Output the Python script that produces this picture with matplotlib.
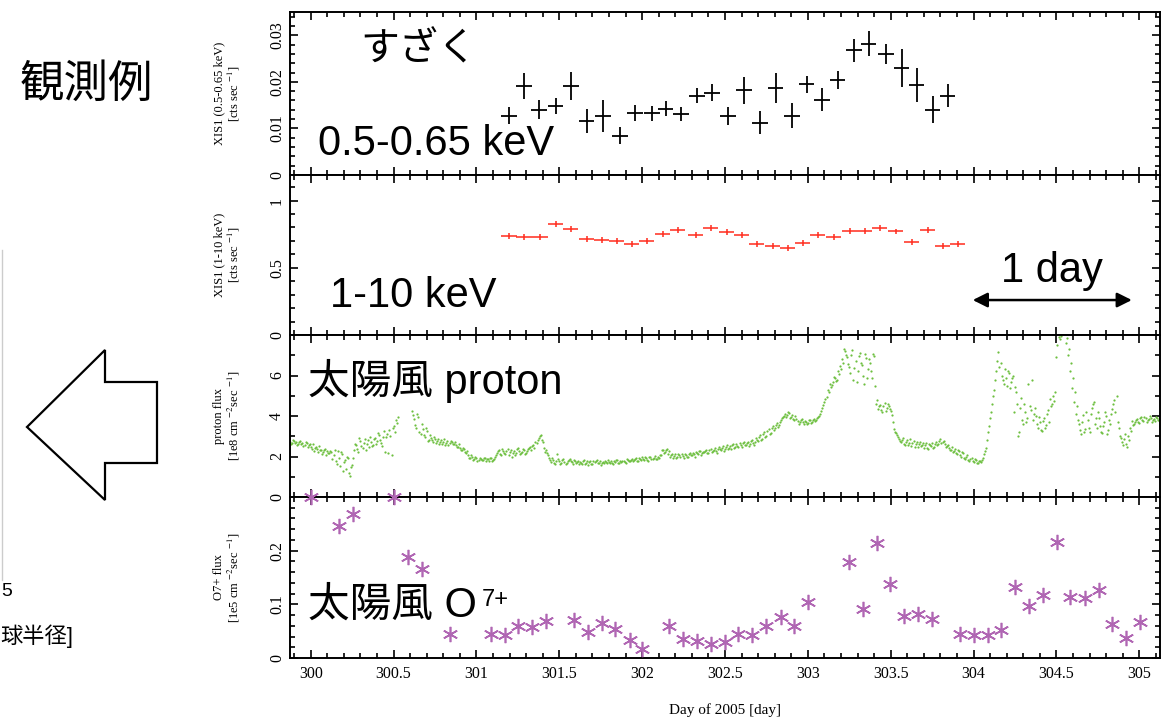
import numpy as np
import matplotlib
matplotlib.use("Agg")
import matplotlib.pyplot as plt
from matplotlib.patches import Polygon
from matplotlib.ticker import MultipleLocator

plt.rcParams['font.family'] = ['Liberation Serif', 'DejaVu Serif']
plt.rcParams['mathtext.fontset'] = 'stix'

# ---- Suzaku XIS1 0.5-0.65 keV (black) ----
soft_day = [301.196, 301.287, 301.377, 301.478, 301.569, 301.665, 301.763, 301.865,
            301.956, 302.058, 302.142, 302.233, 302.330, 302.420, 302.517, 302.613,
            302.710, 302.806, 302.903, 302.993, 303.084, 303.180, 303.277, 303.367,
            303.470, 303.566, 303.656, 303.753, 303.843]
soft_rate = [0.0127, 0.0191, 0.0140, 0.0148, 0.0191, 0.0116, 0.0127, 0.0084,
             0.0133, 0.0133, 0.0142, 0.0131, 0.0170, 0.0177, 0.0127, 0.0182,
             0.0112, 0.0187, 0.0127, 0.0195, 0.0162, 0.0204, 0.0268, 0.0282,
             0.0260, 0.0230, 0.0193, 0.0140, 0.0170]
soft_err = [0.0018, 0.0027, 0.0020, 0.0018, 0.0030, 0.0025, 0.0034, 0.0018,
            0.0018, 0.0016, 0.0016, 0.0016, 0.0016, 0.0018, 0.0019, 0.0029,
            0.0025, 0.0032, 0.0027, 0.0018, 0.0025, 0.0020, 0.0025, 0.0027,
            0.0021, 0.0040, 0.0036, 0.0029, 0.0025]
soft_bin = 0.047

# ---- Suzaku XIS1 1-10 keV (red) ----
hard_day = [301.196, 301.287, 301.383, 301.478, 301.569, 301.665, 301.757, 301.847,
            301.938, 302.028, 302.125, 302.215, 302.323, 302.414, 302.511, 302.601,
            302.692, 302.788, 302.879, 302.969, 303.060, 303.156, 303.253, 303.343,
            303.434, 303.530, 303.627, 303.723, 303.813, 303.904]
hard_rate = [0.736, 0.728, 0.728, 0.827, 0.785, 0.716, 0.709, 0.696,
             0.679, 0.699, 0.748, 0.783, 0.741, 0.795, 0.765, 0.741,
             0.674, 0.662, 0.647, 0.684, 0.741, 0.728, 0.773, 0.773,
             0.795, 0.770, 0.691, 0.778, 0.662, 0.674]
hard_err = 0.022
hard_bin = 0.046

# ---- solar wind proton flux (green), two interleaved samplings every 0.0125 day ----
proton_t0 = 299.875
proton_dt = 0.0125
nan = np.nan
proton_flux = [
    2.72, 2.65, 2.78, 2.70, 2.62, 2.75, 2.68, 2.58, 2.66, 2.55, 2.48, 2.60, 2.42, 2.35, 2.50, 2.30, 2.22, 2.38, 2.25, 2.15,
    2.20, 2.05, 1.80, 2.25, 1.55, 2.10, 1.75, 1.40, 1.95, 1.05, 1.60, 2.30, 2.55, 2.20, 2.75, 2.40, 2.85, 2.60, 2.45, 2.70,
    2.55, 2.90, 2.75, 3.05, 2.65, 2.95, 2.20, 3.10, 3.30, 2.05, 3.50, 3.80, 3.95, nan, nan, nan, nan, nan, nan, 4.25,
    3.85, 3.40, 3.95, 3.10, 3.35, 2.95, 3.25, 2.80, 2.90, 2.70, 2.85, 2.75, 2.62, 2.80, 2.70, 2.58, 2.78, 2.66, 2.72, 2.60,
    2.55, 2.48, 2.40, 2.30, 2.35, 2.15, 2.05, 1.95, 2.00, 1.88, 1.92, 1.85, 1.90, 1.82, 1.95, 1.87, 1.80, 1.92, 1.85, 1.98,
    2.15, 2.30, 2.05, 2.25, 2.12, 2.35, 2.20, 2.00, 2.28, 2.15, 2.40, 2.10, 2.22, 2.30, 2.18, 2.35, 2.45, 2.50, 2.40, 2.65,
    2.90, 3.05, 2.70, 2.20, 2.15, 1.95, 1.75, 1.85, 1.65, 2.10, 1.80, 1.70, 1.88, 1.62, 1.78, 1.90, 1.72, 1.85, 1.68, 1.80,
    1.75, 1.62, 1.82, 1.70, 1.58, 1.78, 1.65, 1.72, 1.85, 1.68, 1.60, 1.75, 1.80, 1.66, 1.72, 1.78, 1.64, 1.74, 1.82, 1.70,
    1.72, 1.80, 1.68, 1.85, 1.76, 1.90, 1.82, 1.95, 1.78, 1.88, 2.00, 1.85, 1.92, 1.80, 1.96, 1.88, 2.02, 1.90, 1.95, 2.05,
    2.30, 2.20, 2.38, 2.25, 2.05, 1.95, 2.10, 1.98, 2.05, 2.12, 1.95, 2.08, 2.00, 2.15, 2.05, 2.10, 2.20, 2.12, 2.25, 2.18,
    2.22, 2.30, 2.15, 2.35, 2.25, 2.40, 2.18, 2.45, 2.30, 2.50, 2.38, 2.55, 2.42, 2.35, 2.60, 2.48, 2.52, 2.65, 2.45, 2.70,
    2.55, 2.70, 2.62, 2.80, 2.58, 2.90, 2.75, 3.05, 2.85, 3.20, 3.00, 3.35, 3.15, 3.50, 3.40, 3.65, 3.55, 3.80, 3.95, 4.10,
    4.05, 4.15, 3.95, 3.85, 4.00, 3.75, 3.70, 3.85, 3.60, 3.72, 3.65, 3.78, 3.70, 3.85, 3.80, 3.95, 4.10, 4.40, 4.70, 4.95,
    5.20, 5.45, 5.70, 5.90, 5.80, 6.05, 6.30, 6.60, 7.20, 6.90, 6.40, 7.00, 5.80, 6.70, 6.20, 7.10, 6.50, 5.60, 6.85, 6.30,
    6.60, 5.90, 6.95, 4.60, 4.35, 4.55, 4.20, 4.65, 4.40, 4.50, 4.25, 3.70, 3.20, 3.05, 2.85, 2.70, 2.90, 2.55, 2.80, 2.65,
    2.50, 2.75, 2.60, 2.45, 2.70, 2.55, 2.40, 2.65, 2.35, 2.58, 2.68, 2.45, 2.72, 2.60, 2.85, 2.70, 2.62, 2.50, 2.40, 2.30,
    2.20, 2.35, 2.10, 2.25, 2.00, 2.15, 1.90, 2.05, 1.80, 1.95, 1.72, 1.85, 1.70, 1.80, 1.85, 2.10, 2.40, 3.20, 3.90, 4.60,
    5.30, 6.20, 7.15, 6.60, 5.80, 6.30, 5.50, 6.10, 5.70, 6.00, 5.45, 4.60, 3.20, 4.90, 3.60, 4.20, 3.90, 4.50, 5.80, 4.10,
    4.00, 3.40, 3.70, 3.25, 3.90, 3.55, 4.30, 4.85, 4.60, 4.75, 6.90, 7.90, 7.95, 8.50, 8.60, 7.85, 7.30, 6.60, 5.90, 5.20,
    4.50, 3.60, 3.10, 4.05, 3.35, 3.80, 3.20, 4.40, 4.70, 3.90, 4.20, 3.50, 3.15, 3.70, 4.00, 3.30, 3.60, 4.35, 4.80, 5.00,
    3.40, 2.90, 2.55, 3.10, 2.45, 2.80, 3.25, 3.55, 3.70, 3.85, 3.65, 3.95, 3.75, 3.90, 3.80, 4.00, 3.70, 3.85, 3.95, 3.78,
]
# second sampling, offset by half a step
proton_flux_b = [
    2.60, 2.80, 2.66, 2.58, 2.74, 2.64, 2.52, 2.70, 2.45, 2.62, 2.38, 2.28, 2.45, 2.20, 2.32, 2.12, 2.30, 2.08, 2.18, 2.28,
    1.90, 2.30, 1.65, 1.95, 2.20, 1.30, 1.85, 2.00, 1.20, 1.50, 1.95, 2.60, 2.35, 2.90, 2.50, 2.65, 2.30, 2.80, 2.95, 2.50,
    2.85, 2.60, 3.15, 2.80, 2.50, 3.25, 2.95, 2.15, 3.00, 3.40, 3.20, 3.65, nan, nan, nan, nan, nan, nan, nan, 4.05,
    3.55, 4.10, 3.20, 3.60, 3.05, 3.40, 2.75, 3.05, 2.80, 2.95, 2.65, 2.85, 2.72, 2.60, 2.85, 2.68, 2.55, 2.76, 2.60, 2.70,
    2.45, 2.60, 2.30, 2.42, 2.20, 2.25, 1.95, 2.05, 1.85, 1.98, 1.80, 1.95, 1.83, 1.92, 1.78, 1.88, 1.95, 1.80, 1.90, 2.08,
    2.25, 2.10, 2.35, 2.18, 2.28, 2.05, 2.30, 2.15, 2.05, 2.35, 2.25, 2.18, 2.35, 2.12, 2.28, 2.40, 2.30, 2.55, 2.70, 2.80,
    3.00, 2.80, 2.40, 2.30, 2.05, 1.85, 1.95, 1.70, 1.80, 1.90, 1.65, 1.82, 1.75, 1.70, 1.85, 1.76, 1.62, 1.80, 1.74, 1.65,
    1.68, 1.76, 1.64, 1.80, 1.72, 1.62, 1.76, 1.80, 1.70, 1.78, 1.66, 1.70, 1.74, 1.82, 1.68, 1.70, 1.78, 1.84, 1.66, 1.78,
    1.80, 1.74, 1.90, 1.78, 1.84, 1.80, 1.88, 1.76, 1.92, 1.84, 1.90, 1.96, 1.82, 1.98, 1.86, 1.92, 1.86, 2.00, 2.08, 2.30,
    2.15, 2.32, 2.10, 1.98, 2.10, 2.02, 1.92, 2.12, 1.98, 2.02, 2.10, 1.96, 2.12, 2.05, 2.18, 2.00, 2.15, 2.28, 2.08, 2.24,
    2.28, 2.18, 2.32, 2.20, 2.30, 2.28, 2.38, 2.35, 2.42, 2.28, 2.48, 2.36, 2.52, 2.55, 2.40, 2.62, 2.45, 2.55, 2.68, 2.58,
    2.65, 2.50, 2.75, 2.68, 2.70, 2.82, 2.95, 2.80, 3.10, 2.95, 3.25, 3.10, 3.40, 3.30, 3.58, 3.45, 3.70, 3.88, 4.02, 3.95,
    4.20, 3.90, 4.05, 3.78, 3.85, 3.62, 3.80, 3.68, 3.75, 3.60, 3.82, 3.66, 3.78, 3.75, 3.90, 4.00, 4.25, 4.55, 4.85, 5.30,
    5.60, 5.55, 5.95, 5.75, 6.20, 6.45, 6.80, 7.30, 7.00, 6.55, 6.10, 7.25, 6.35, 5.70, 6.95, 6.60, 6.00, 7.05, 5.90, 6.80,
    6.20, 7.05, 5.50, 4.80, 4.50, 4.30, 4.50, 4.25, 4.60, 4.35, 4.05, 3.35, 3.15, 2.95, 2.75, 2.82, 2.60, 2.72, 2.55, 2.88,
    2.65, 2.45, 2.72, 2.62, 2.50, 2.68, 2.55, 2.42, 2.62, 2.50, 2.40, 2.60, 2.55, 2.78, 2.65, 2.75, 2.45, 2.58, 2.32, 2.45,
    2.28, 2.15, 2.30, 2.05, 2.20, 1.95, 2.00, 1.85, 1.90, 1.78, 1.90, 1.66, 1.76, 1.74, 1.95, 2.25, 2.80, 3.50, 4.20, 5.00,
    5.80, 6.70, 6.40, 6.00, 5.60, 5.90, 6.20, 5.40, 5.90, 4.20, 5.20, 3.00, 4.40, 3.80, 4.60, 3.70, 5.60, 4.30, 3.80, 4.40,
    3.60, 3.95, 3.30, 3.75, 3.40, 4.10, 3.70, 4.50, 5.00, 5.20, 7.50, 7.80, 8.40, 8.30, 7.60, 7.00, 6.20, 5.40, 4.70, 4.10,
    3.80, 3.30, 3.70, 3.20, 4.20, 3.40, 4.10, 4.60, 3.60, 3.40, 3.90, 3.20, 3.50, 4.20, 3.10, 3.80, 4.10, 4.60, 4.20, 3.70,
    3.00, 2.70, 2.85, 2.60, 3.00, 3.40, 3.75, 3.60, 3.80, 3.70, 3.90, 3.80, 3.95, 3.70, 3.85, 3.90, 3.82, 3.75, 3.88, 3.82,
]
proton_day = proton_t0 + proton_dt * np.arange(len(proton_flux))
proton_day_b = proton_t0 + proton_dt / 2 + proton_dt * np.arange(len(proton_flux_b))

# ---- solar wind O7+ flux (purple) ----
oxy_day = [300.000, 300.171, 300.257, 300.502, 300.585, 300.673, 300.840, 301.087,
           301.172, 301.252, 301.333, 301.419, 301.590, 301.671, 301.759, 301.835,
           301.926, 302.000, 302.161, 302.244, 302.334, 302.414, 302.499, 302.579,
           302.663, 302.746, 302.835, 302.917, 303.001, 303.247, 303.333, 303.417,
           303.498, 303.580, 303.665, 303.752, 303.916, 304.001, 304.087, 304.168,
           304.252, 304.332, 304.419, 304.503, 304.584, 304.670, 304.754, 304.835,
           304.917, 305.002]
oxy_flux = [0.300, 0.246, 0.269, 0.300, 0.189, 0.166, 0.045, 0.045,
            0.042, 0.060, 0.057, 0.069, 0.071, 0.049, 0.066, 0.054,
            0.034, 0.016, 0.060, 0.036, 0.032, 0.027, 0.029, 0.045,
            0.042, 0.060, 0.077, 0.059, 0.104, 0.179, 0.091, 0.214,
            0.138, 0.079, 0.082, 0.073, 0.045, 0.042, 0.042, 0.052,
            0.132, 0.097, 0.118, 0.216, 0.113, 0.112, 0.126, 0.064,
            0.037, 0.067]

W, H = 1170, 717
fig = plt.figure(figsize=(W / 100, H / 100), dpi=100)


def fx(x):
    return x / W


def fy(y):
    return 1 - y / H


# panel edges in pixels (top, bottom)
edges = [(12, 175), (175, 335), (335, 497), (497, 658)]
left, right = 290, 1160
axes = []
for t, b in edges:
    ax = fig.add_axes([fx(left), fy(b), fx(right - left), (b - t) / H],
                      sharex=axes[0] if axes else None)
    axes.append(ax)

ax1, ax2, ax3, ax4 = axes

ax1.errorbar(soft_day, soft_rate, xerr=soft_bin, yerr=soft_err, fmt='none',
             ecolor='black', elinewidth=1.3, capsize=0)
ax2.errorbar(hard_day, hard_rate, xerr=hard_bin, yerr=hard_err, fmt='none',
             ecolor='#ff2b1c', elinewidth=1.1, capsize=0)
ax3.plot(proton_day, proton_flux, '.', color='#6dbf3f', ms=3.2, mew=0)
ax3.plot(proton_day_b, proton_flux_b, '.', color='#6dbf3f', ms=3.2, mew=0)
ax4.plot(oxy_day, oxy_flux, ls='none', marker=(6, 2, 0), color='#b066b3',
         ms=11, mew=1.2, clip_on=False, zorder=5)

ylims = [(0, 0.035), (0, 1.19), (0, 8.0), (0, 0.3)]
majors = [0.01, 0.5, 2, 0.1]
minors = [0.002, 0.1, 1, 0.02]
ylabels = ['XIS1 (0.5-0.65 keV)\n[cts sec $^{-1}$]',
           'XIS1 (1-10 keV)\n[cts sec $^{-1}$]',
           'proton flux\n[1e8 cm $^{-2}$sec $^{-1}$]',
           'O7+ flux\n[1e5 cm $^{-2}$sec $^{-1}$]']
ytick_text = [['0', '0.01', '0.02', '0.03'], ['0', '0.5', '1'],
              ['0', '2', '4', '6'], ['0', '0.1', '0.2']]

for ax, yl, mj, mn, lab, tt in zip(axes, ylims, majors, minors, ylabels, ytick_text):
    ax.set_xlim(299.875, 305.125)
    ax.xaxis.set_major_locator(MultipleLocator(0.5))
    ax.xaxis.set_minor_locator(MultipleLocator(0.1))
    ax.set_yticks([mj * k for k in range(len(tt))])
    ax.set_yticklabels(tt, rotation=90, va='center')
    ax.yaxis.set_minor_locator(MultipleLocator(mn))
    ax.set_ylim(*yl)
    ax.tick_params(which='both', direction='in', top=True, right=True, width=1.2,
                   labelsize=11.5)
    ax.tick_params(which='major', length=6)
    ax.tick_params(which='minor', length=3.5)
    for s in ax.spines.values():
        s.set_linewidth(1.4)
    ax.set_ylabel(lab, fontsize=9, linespacing=1.1)
    ax.yaxis.set_label_coords(-0.055, 0.5)
    if ax is not ax4:
        ax.tick_params(labelbottom=False)

ax4.set_xticks([300, 300.5, 301, 301.5, 302, 302.5, 303, 303.5, 304, 304.5, 305])
ax4.set_xticklabels(['300', '300.5', '301', '301.5', '302', '302.5', '303',
                     '303.5', '304', '304.5', '305'])
ax4.tick_params(axis='x', pad=6)
ax4.set_xlabel('Day of 2005 [day]', fontsize=11, labelpad=15)

# ---- overlay labels ----
sans = ['Liberation Sans', 'Noto Sans CJK JP', 'DejaVu Sans']
big = 30
fig.text(fx(360), fy(50), 'すざく', family=sans, fontsize=28, va='center')
fig.text(fx(318), fy(155), '0.5-0.65 keV', family=sans, fontsize=big, va='baseline')
fig.text(fx(330), fy(307), '1-10 keV', family=sans, fontsize=big, va='baseline')
fig.text(fx(1052), fy(282), '1 day', family=sans, fontsize=big, va='baseline', ha='center')
fig.text(fx(308), fy(394), '太陽風 proton', family=sans, fontsize=big, va='baseline')
fig.text(fx(308), fy(617), '太陽風 O', family=sans, fontsize=big, va='baseline')
fig.text(fx(482), fy(606), '7+', family=sans, fontsize=17, va='baseline')

ax2.annotate('', xy=(303.995, 0.26), xytext=(304.955, 0.26),
             arrowprops=dict(arrowstyle='<|-|>', color='black', lw=1.8,
                             mutation_scale=22, shrinkA=0, shrinkB=0))

# ---- left side of the slide ----
fig.text(fx(20), fy(85), '観測例', family=sans, fontsize=32, va='center')
arrow_px = [(27, 427), (105, 350), (105, 382), (157, 382),
            (157, 463), (105, 463), (105, 500)]
fig.patches.append(Polygon([(fx(x), fy(y)) for x, y in arrow_px], closed=True,
                           transform=fig.transFigure, facecolor='white',
                           edgecolor='black', lw=1.6))
fig.add_artist(plt.Line2D([fx(1.5), fx(1.5)], [fy(250), fy(580)],
                          transform=fig.transFigure, color='#cccccc', lw=1))
fig.text(fx(1), fy(592), '5', family=sans, fontsize=14, va='center')
fig.text(fx(0), fy(636), '球半径]', family=sans, fontsize=16, va='center')

fig.savefig('out.png', dpi=100)
